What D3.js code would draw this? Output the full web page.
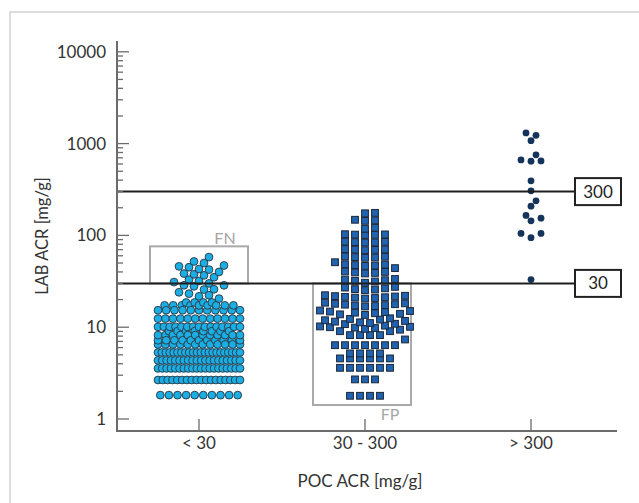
<!DOCTYPE html>
<html><head><meta charset="utf-8">
<script src="https://cdn.jsdelivr.net/npm/d3@7"></script>
<style>html,body{margin:0;padding:0;background:#fff;}svg{display:block;font-family:Lato,"Open Sans",sans-serif;}</style>
</head><body><svg id="c" width="639" height="503"></svg>
<script>
// ---- data ----
const categories = ["< 30", "30 - 300", "> 300"];
const yTickValues = [1, 10, 100, 1000, 10000];
const thresholds = [30, 300];
const xTitle = "POC ACR [mg/g]";
const yTitle = "LAB ACR [mg/g]";

// "< 30" group (POC): repeated LAB values (rows) and single values
const lowRowValues = [1.82, 2.66, 3.56, 4.35, 5.31, 6.49, 7.2, 8.2, 9.05, 10.1, 12.4, 15.3, 17.3, 18.6];
const lowRowCounts = [10, 18, 20, 20, 22, 12, 11, 12, 8, 15, 12, 11, 9, 4];
const lowSingles = [20.5, 21.7, 22.3, 23.2, 24, 25.7, 25.9, 27.9, 28.6, 28.6, 30, 31, 31.9, 33, 35, 36.7, 37.7, 38.4, 40, 42.4, 43, 45, 46, 47, 50, 52, 58];

// "30 - 300" group
const midRowValues = [1.79, 2.7, 3.61, 4.57, 5.18, 6.37, 8.2];
const midRowCounts = [4, 3, 6, 6, 4, 7, 4];
const midSingles = [
  176, 174,
  148, 146, 144,
  121, 118,
  103, 102.5, 102, 101.5, 101,
  85.5, 85, 84.5, 84, 83.5,
  71, 70.5, 70, 69.5, 69,
  59, 58.5, 58, 57.5, 57, 51,
  48.5, 48, 47.5, 47, 46.5, 44,
  40.5, 40, 39.5, 39, 38.5,
  33.5, 33, 32.5, 32, 31.5, 30.5,
  27.5, 27, 26.5, 26, 25.7, 25.3,
  22.3, 22, 21.8, 21.6, 21.4, 21.2, 21, 20.8, 20.5,
  18.5, 18.2, 18, 17.8, 17.6, 17.4, 17.2, 17, 16.8,
  15.2, 15, 14.8, 14.6, 14.4, 14.2, 14, 13.8, 13.6,
  12.5, 12.3, 12.1, 11.9, 11.7, 11.5, 11.3, 11.1, 10.9, 10.8,
  10.4, 10.2, 10.1, 10, 9.9, 9.8, 9.6, 9.4,
  9.05, 9.05, 7.35
];

// "> 300" group
const highSingles = [33, 94.4, 105, 105, 144, 154, 165, 208, 238, 306, 393, 643, 647, 664, 754, 1075, 1230, 1307];

// FN / FP boxes (LAB value bounds)
const fnBox = [30, 76];
const fpBox = [1.42, 30];

// ---- drawing ----
const svg = d3.select("#c");
const y = d3.scaleLog().domain([1, 10000]).range([419, 51.8]);
const x = d3.scalePoint().domain(categories).range([199, 531]);

// frame
svg.append("path").attr("d", "M10,503 L10,12 L639,12").attr("fill", "none").attr("stroke", "#d2d2d2").attr("stroke-width", 1.5);

function layout(rowVals, rowCounts, singles, o) {
  const pts = [];
  rowVals.forEach((v, i) => {
    const n = rowCounts[i];
    const sp = n > 1 ? Math.min(o.gap, o.half * 2 / (n - 1)) : 0;
    for (let j = 0; j < n; j++) pts.push({v: v, dx: (j - (n - 1) / 2) * sp});
  });
  singles.slice().sort((a, b) => a - b).forEach(v => {
    const yv = y(v);
    const cands = [0];
    for (let k = 1; k * o.step <= o.half + 0.01; k++) { cands.push(k * o.step); cands.push(-k * o.step); }
    let chosen = null, best = -1, bestC = 0;
    for (const c of cands) {
      let ok = true, md = Infinity;
      for (const p of pts) {
        const ddx = Math.abs(p.dx - c), ddy = Math.abs(y(p.v) - yv);
        md = Math.min(md, Math.hypot(ddx, ddy));
        if (o.square ? (ddx < o.cw && ddy < o.ch) : Math.hypot(ddx, ddy) < o.cd) ok = false;
      }
      if (ok) { chosen = c; break; }
      if (md > best) { best = md; bestC = c; }
    }
    if (chosen === null) chosen = bestC;
    pts.push({v: v, dx: chosen});
  });
  return pts;
}

const lowPts = layout(lowRowValues, lowRowCounts, lowSingles, {gap: 8.6, half: 41, step: 5, cd: 7});
const midPts = layout(midRowValues, midRowCounts, midSingles, {gap: 10, half: 45, step: 5, square: true, cw: 9.5, ch: 6});
const highPts = layout([], [], highSingles, {gap: 10, half: 20, step: 5, cd: 7});

// boxes
const gBox = svg.append("g");
gBox.append("rect").attr("x", x(categories[0]) - 49).attr("width", 98)
  .attr("y", y(fnBox[1])).attr("height", y(fnBox[0]) - y(fnBox[1]))
  .attr("fill", "none").attr("stroke", "#a9a9a9").attr("stroke-width", 2);
gBox.append("rect").attr("x", x(categories[1]) - 52).attr("width", 98)
  .attr("y", y(fpBox[1])).attr("height", y(fpBox[0]) - y(fpBox[1]))
  .attr("fill", "none").attr("stroke", "#a9a9a9").attr("stroke-width", 2);
gBox.append("text").attr("x", x(categories[0]) + 26).attr("y", y(fnBox[1]) - 2).attr("text-anchor", "middle")
  .attr("font-size", 16).attr("fill", "#a6a6a6").text("FN");
gBox.append("text").attr("x", x(categories[1]) + 25).attr("y", y(fpBox[0]) + 15).attr("text-anchor", "middle")
  .attr("font-size", 16).attr("fill", "#a6a6a6").text("FP");

// points
svg.append("g").selectAll("circle").data(lowPts.slice().sort((a, b) => a.dx - b.dx)).join("circle")
  .attr("cx", d => x(categories[0]) + d.dx).attr("cy", d => y(d.v)).attr("r", 3.9)
  .attr("fill", "#1aaee4").attr("stroke", "#2b3440").attr("stroke-width", 0.9);
svg.append("g").selectAll("rect").data(midPts).join("rect")
  .attr("x", d => x(categories[1]) + d.dx - 3.4).attr("y", d => y(d.v) - 3.4)
  .attr("width", 6.8).attr("height", 6.8)
  .attr("fill", "#2063b1").attr("stroke", "#1c2636").attr("stroke-width", 1);
svg.append("g").selectAll("circle").data(highPts).join("circle")
  .attr("cx", d => x(categories[2]) + d.dx).attr("cy", d => y(d.v)).attr("r", 3.4)
  .attr("fill", "#15345c");

// threshold lines + labels
const gT = svg.append("g");
thresholds.forEach(t => {
  gT.append("line").attr("x1", 117).attr("x2", 574).attr("y1", y(t)).attr("y2", y(t))
    .attr("stroke", "#1e1e1e").attr("stroke-width", 2);
  gT.append("rect").attr("x", 575).attr("y", y(t) - 13.5).attr("width", 46).attr("height", 27)
    .attr("fill", "#fff").attr("stroke", "#222").attr("stroke-width", 2);
  gT.append("text").attr("x", 598).attr("y", y(t) + 6).attr("text-anchor", "middle")
    .attr("font-size", 17).attr("fill", "#222").text(t);
});

// y axis
const gy = svg.append("g");
gy.append("line").attr("x1", 117).attr("x2", 117).attr("y1", 41).attr("y2", 432).attr("stroke", "#6b6b6b").attr("stroke-width", 2);
y.ticks().forEach(t => {
  const major = yTickValues.includes(t);
  gy.append("line").attr("x1", 117).attr("x2", major ? 129 : 123).attr("y1", y(t)).attr("y2", y(t))
    .attr("stroke", "#6b6b6b").attr("stroke-width", 1.3);
});
yTickValues.forEach(t => {
  gy.append("text").attr("x", 106).attr("y", y(t) + 6).attr("text-anchor", "end")
    .attr("font-size", 17).attr("fill", "#333").text(t);
});
gy.append("text").attr("transform", "translate(48,236) rotate(-90)").attr("text-anchor", "middle")
  .attr("font-size", 16.5).attr("fill", "#333").text(yTitle);

// x axis
const gx = svg.append("g");
gx.append("line").attr("x1", 116).attr("x2", 617).attr("y1", 431).attr("y2", 431).attr("stroke", "#6b6b6b").attr("stroke-width", 2);
categories.forEach(c => {
  gx.append("line").attr("x1", x(c)).attr("x2", x(c)).attr("y1", 419).attr("y2", 431).attr("stroke", "#6b6b6b").attr("stroke-width", 1.3);
  gx.append("text").attr("x", x(c)).attr("y", 449).attr("text-anchor", "middle")
    .attr("font-size", 17).attr("fill", "#333").text(c);
});
gx.append("text").attr("x", 360).attr("y", 487).attr("text-anchor", "middle")
  .attr("font-size", 17).attr("fill", "#333").text(xTitle);
</script></body></html>
